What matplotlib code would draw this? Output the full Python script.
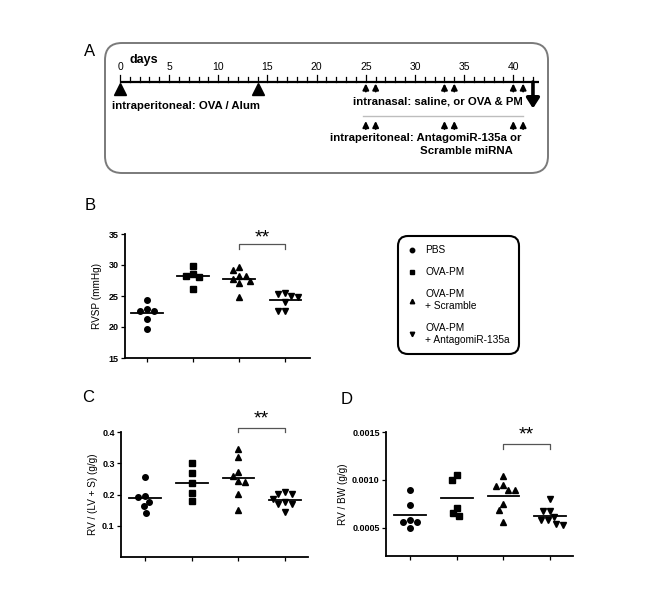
import numpy as np
import matplotlib
matplotlib.use('Agg')
import matplotlib.pyplot as plt
from matplotlib.patches import FancyBboxPatch
from matplotlib.lines import Line2D

plt.rcParams['font.family'] = ['Liberation Sans', 'DejaVu Sans']

# ---------------- data ----------------
groups = ['PBS', 'OVA-PM', 'OVA-PM\n+ Scramble', 'OVA-PM\n+ AntagomiR-135a']
group_markers = ['o', 's', '^', 'v']

rvsp_pbs = [24.4, 22.6, 22.6, 22.9, 21.3, 19.7]
rvsp_ovapm = [29.9, 28.3, 28.0, 28.6, 26.1]
rvsp_scramble = [29.6, 29.2, 28.3, 28.3, 27.7, 27.4, 27.1, 24.9]
rvsp_antago = [25.5, 25.4, 25.0, 24.9, 24.0, 22.6, 22.6]

rvlvs_pbs = [0.258, 0.197, 0.191, 0.178, 0.162, 0.141]
rvlvs_ovapm = [0.301, 0.271, 0.237, 0.204, 0.181]
rvlvs_scramble = [0.346, 0.320, 0.274, 0.260, 0.244, 0.239, 0.202, 0.152]
rvlvs_antago = [0.208, 0.203, 0.203, 0.187, 0.176, 0.171, 0.171, 0.143]

rvbw_pbs = [0.000895, 0.000738, 0.00058, 0.00056, 0.00056, 0.000495]
rvbw_ovapm = [0.00105, 0.00100, 0.00071, 0.00065, 0.000626]
rvbw_scramble = [0.00104, 0.000944, 0.00094, 0.00089, 0.00089, 0.000745, 0.000685, 0.000563]
rvbw_antago = [0.00080, 0.00067, 0.00067, 0.00061, 0.00058, 0.00058, 0.00054, 0.00053]

significance = (3, 4, '**')

# timeline (days)
day_labels = list(range(0, 41, 5))
ova_alum_days = [0, 14]
intranasal_days = [25, 26, 33, 34, 40, 41]
antagomir_days = [25, 26, 33, 34, 40, 41]
sacrifice_day = 42
timeline_end = 42.6

# ---------------- figure ----------------
W, H = 650, 598
fig = plt.figure(figsize=(W / 100, H / 100), dpi=100)


def fax(l, t, r, b):
    return [l / W, 1 - b / H, (r - l) / W, (b - t) / H]


ov = fig.add_axes([0, 0, 1, 1])
ov.set_xlim(0, W)
ov.set_ylim(H, 0)
ov.axis('off')

# panel letters
for letter, (x, y) in zip('ABCD', [(90, 52), (90, 205), (88, 398), (347, 400)]):
    ov.text(x, y, letter, fontsize=12, ha='center', va='center')

# ---------------- panel A ----------------
ov.add_patch(FancyBboxPatch((105, 43), 443, 130, boxstyle='round,pad=0,rounding_size=17',
                            fc='none', ec='#7a7a7a', lw=1.4))

axA = fig.add_axes(fax(105, 43, 548, 173))
day0_px, day40_px = 120, 513.3
ppd = (day40_px - day0_px) / 40
axA.set_xlim((105 - day0_px) / ppd, (548 - day0_px) / ppd)
axA.set_ylim(173, 43)
axA.axis('off')

line_y = 82
axA.plot([0, timeline_end], [line_y, line_y], color='k', lw=1.6, solid_capstyle='butt')
for d in range(0, int(timeline_end) + 1):
    h = 6.5 if d % 5 == 0 else 4.5
    axA.plot([d, d], [line_y, line_y - h], color='k', lw=0.9)
for d in day_labels:
    axA.text(d, 67, str(d), ha='center', va='center', fontsize=7.5)
axA.text(2.45, 60.5, 'days', ha='center', va='center', fontsize=9, fontweight='bold')

axA.plot(ova_alum_days, [89] * len(ova_alum_days), ls='none', marker='^', ms=8.5, color='k')

small_arrow = dict(arrowstyle='-|>,head_length=0.45,head_width=0.22', lw=1.4, color='k',
                   shrinkA=0, shrinkB=0, mutation_scale=8)
for d in intranasal_days:
    axA.annotate('', xy=(d, 83.5), xytext=(d, 91.5), arrowprops=small_arrow)
for d in antagomir_days:
    axA.annotate('', xy=(d, 121), xytext=(d, 129), arrowprops=small_arrow)
axA.annotate('', xy=(sacrifice_day, 108.5), xytext=(sacrifice_day, line_y),
             arrowprops=dict(arrowstyle='-|>,head_length=0.5,head_width=0.32', lw=2.6, color='k',
                             shrinkA=0, shrinkB=0, mutation_scale=12))

ov.text(112, 106, 'intraperitoneal: OVA / Alum', fontsize=8.2, fontweight='bold', ha='left', va='center')
ov.text(437.5, 101, 'intranasal: saline, or OVA & PM', fontsize=8.2, fontweight='bold', ha='center', va='center')
ov.plot([363, 523], [116, 116], color='#bdbdbd', lw=1.0)
ov.text(522, 138, 'intraperitoneal: AntagomiR-135a or', fontsize=8.2, fontweight='bold', ha='right', va='center')
ov.text(420, 150.5, 'Scramble miRNA', fontsize=8.2, fontweight='bold', ha='left', va='center')


# ---------------- dot plots ----------------
def swarm(values, ypu, xpu, d=7.0):
    vals = np.asarray(values, float)
    order = np.argsort(-vals)
    placed = []
    offs = np.zeros(len(vals))
    for i in order:
        y = vals[i] * ypu
        cands = [0.0]
        for (px, py) in placed:
            dy = abs(y - py)
            if dy < d:
                dx = np.sqrt(d * d - dy * dy)
                cands += [px + dx, px - dx]
        cands = sorted(cands, key=lambda c: (abs(c), c))
        for c in cands:
            if all((c - px) ** 2 + (y - py) ** 2 >= d * d - 1e-6 for (px, py) in placed):
                break
        placed.append((c, y))
        offs[i] = c / xpu
    return offs


def dot_panel(ax, data, ylim, yticks, ticklabels, ylabel, labelpad, xlim, bracket):
    ax.set_xlim(*xlim)
    ax.set_ylim(*ylim)
    bb = ax.get_position()
    ypu = bb.height * H / (ylim[1] - ylim[0])
    xpu = bb.width * W / (xlim[1] - xlim[0])
    for i, (vals, m) in enumerate(zip(data, group_markers)):
        offs = swarm(vals, ypu, xpu)
        ax.plot(i + 1 + offs, vals, ls='none', marker=m, ms=4.0, color='k', clip_on=False)
        mu = np.mean(vals)
        ax.plot([i + 1 - 0.34, i + 1 + 0.34], [mu, mu], color='k', lw=1.3)
    for s in ['top', 'right']:
        ax.spines[s].set_visible(False)
    for s in ['left', 'bottom']:
        ax.spines[s].set_linewidth(1.3)
    ax.set_xticks([1, 2, 3, 4])
    ax.set_xticklabels([])
    ax.set_yticks(yticks)
    ax.set_yticklabels(ticklabels, fontsize=6.5, fontweight='bold')
    ax.tick_params(length=3, width=0.9, pad=1.5)
    ax.set_ylabel(ylabel, fontsize=7.2, labelpad=labelpad)
    lo, hi, sy = bracket
    g1, g2, txt = significance
    ax.plot([g1, g1, g2, g2], [lo, hi, hi, lo], color='#555555', lw=0.9, clip_on=False)
    ax.text((g1 + g2) / 2, sy, txt, ha='center', va='center', fontsize=14, clip_on=False)


axB = fig.add_axes(fax(125, 234, 310, 358))
dot_panel(axB, [rvsp_pbs, rvsp_ovapm, rvsp_scramble, rvsp_antago], (15, 35),
          [15, 20, 25, 30, 35], ['15', '20', '25', '30', '35'], 'RVSP (mmHg)', 5,
          (0.52, 4.54), (32.6, 33.4, 34.3))

axC = fig.add_axes(fax(121, 432.3, 308, 557))
dot_panel(axC, [rvlvs_pbs, rvlvs_ovapm, rvlvs_scramble, rvlvs_antago], (0, 0.4),
          [0.1, 0.2, 0.3, 0.4], ['0.1', '0.2', '0.3', '0.4'], 'RV / (LV + S) (g/g)', 3,
          (0.486, 4.49), (0.400, 0.415, 0.443))

axD = fig.add_axes(fax(386, 432.3, 573, 556.3))
dot_panel(axD, [rvbw_pbs, rvbw_ovapm, rvbw_scramble, rvbw_antago], (0.0002, 0.0015),
          [0.0005, 0.0010, 0.0015], ['0.0005', '0.0010', '0.0015'], 'RV / BW (g/g)', 3,
          (0.486, 4.49), (0.001325, 0.001377, 0.00147))

# ---------------- legend ----------------
handles = [Line2D([], [], ls='none', marker=m, ms=3.2, color='k') for m in group_markers]
leg = fig.legend(handles, groups, loc='upper left', bbox_to_anchor=(398 / W, 1 - 236 / H),
                 bbox_transform=fig.transFigure, borderaxespad=0, fontsize=7.3,
                 frameon=True, fancybox=True, borderpad=0.9, handlelength=1.0,
                 handletextpad=0.8, labelspacing=1.2)
fr = leg.get_frame()
fr.set_boxstyle('round,pad=0,rounding_size=1.0')
fr.set_edgecolor('k')
fr.set_linewidth(1.5)
fr.set_facecolor('white')
fr.set_alpha(None)

fig.savefig('out.png', dpi=100)
